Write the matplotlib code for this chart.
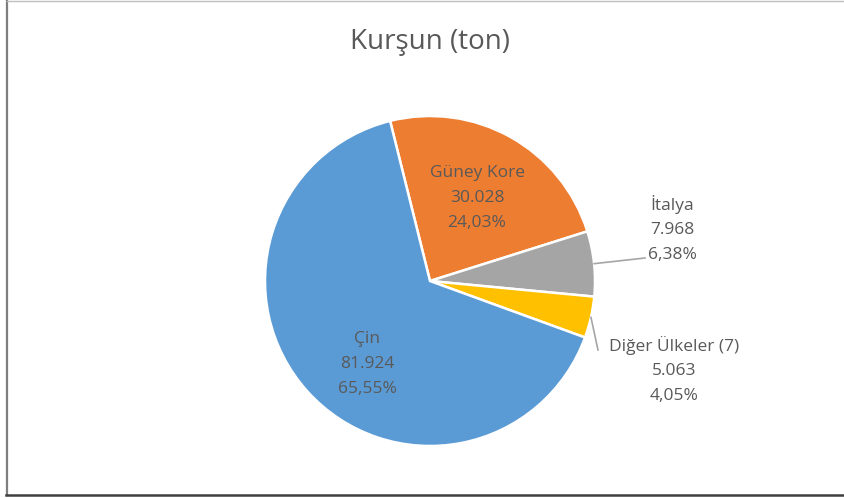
import numpy as np
import matplotlib.pyplot as plt
from matplotlib.lines import Line2D

plt.rcParams['font.family'] = ['Open Sans', 'DejaVu Sans']

# veriler (ton)
ulkeler = ['Güney Kore', 'İtalya', 'Diğer Ülkeler (7)', 'Çin']
degerler = [30028, 7968, 5063, 81924]
renkler = ['#ED7D31', '#A5A5A5', '#FFC000', '#5B9BD5']
yazi_rengi = '#595959'

W, H = 844, 498
fig = plt.figure(figsize=(W / 100, H / 100), dpi=100)

# cerceve (sol, ust, alt)
cerceve = [([6.5, 6.5], [1, 495], '#7f7f7f', 1.6),
           ([6.5, 844], [1.5, 1.5], '#bfbfbf', 1.0),
           ([6, 844], [495, 495], '#404040', 1.8)]
for xs, ys, renk, lw in cerceve:
    fig.add_artist(Line2D([x / W for x in xs], [1 - y / H for y in ys],
                          transform=fig.transFigure, color=renk, linewidth=lw))

cx, cy, r = 430, 281, 165
ax = fig.add_axes([(cx - r) / W, (H - cy - r) / H, 2 * r / W, 2 * r / H])

wedges, _ = ax.pie(degerler, colors=renkler, startangle=104, counterclock=False,
                   radius=1, wedgeprops=dict(edgecolor='white', linewidth=1.8))
ax.set_xlim(-1, 1)
ax.set_ylim(-1, 1)
ax.set_aspect('equal')
ax.axis('off')

toplam = sum(degerler)


def tr_sayi(v):
    return f'{v:,}'.replace(',', '.')


def tr_yuzde(v):
    return f'{100 * v / toplam:.2f}%'.replace('.', ',')


def px(x, y):
    return (x - cx) / r, (cy - y) / r


# etiket konumlari (piksel)
konumlar = [(477, 198), (672, 229), (674, 370), (367, 364)]
for i, (ad, v) in enumerate(zip(ulkeler, degerler)):
    x, y = px(*konumlar[i])
    ax.text(x, y, f'{ad}\n{tr_sayi(v)}\n{tr_yuzde(v)}', ha='center', va='center',
            fontsize=12.5, color=yazi_rengi, linespacing=1.72, clip_on=False)

# kilavuz cizgiler
for i, uc in [(1, (645, 258)), (2, (598, 350))]:
    w = wedges[i]
    a = np.deg2rad((w.theta1 + w.theta2) / 2)
    x0, y0 = np.cos(a), np.sin(a)
    x1, y1 = px(*uc)
    ax.plot([x0, x1], [y0, y1], color='#a6a6a6', linewidth=1.2, clip_on=False)

fig.text(cx / W, 1 - 42 / H, 'Kurşun (ton)', ha='center', va='center',
         fontsize=20, color=yazi_rengi)

fig.savefig('out.png', dpi=100)
